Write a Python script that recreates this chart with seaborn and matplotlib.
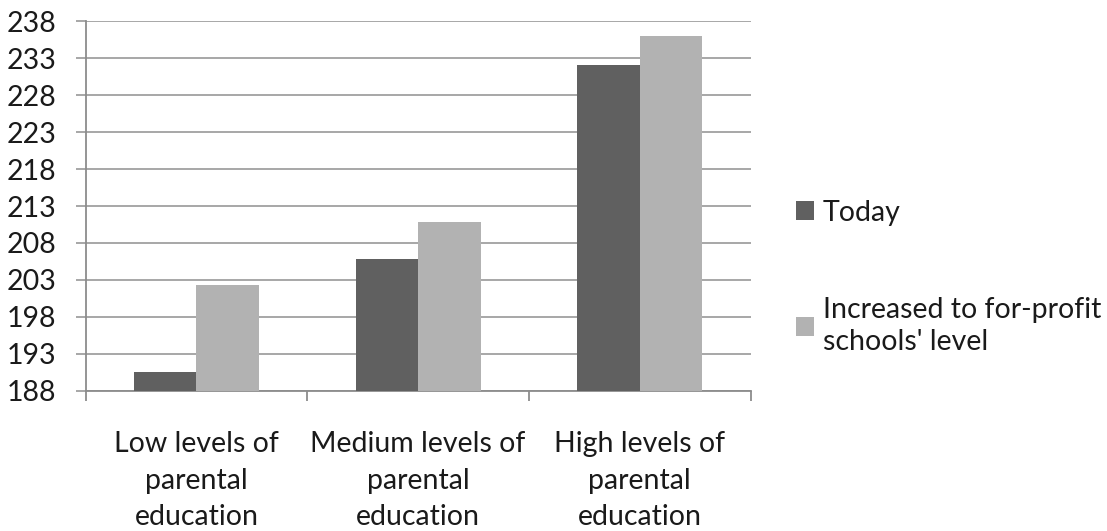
import matplotlib
matplotlib.use("Agg")
import matplotlib.pyplot as plt
import seaborn as sns
import pandas as pd
import numpy as np

categories = ["Low levels of\nparental\neducation",
              "Medium levels of\nparental\neducation",
              "High levels of\nparental\neducation"]
series_names = ["Today", "Increased to for-profit\nschools' level"]
today = [190.6, 205.9, 232.1]
increased = [202.3, 210.8, 236.0]
y_ticks = [188, 193, 198, 203, 208, 213, 218, 223, 228, 233, 238]

df = pd.DataFrame({
    "category": categories * 2,
    "series": [series_names[0]] * 3 + [series_names[1]] * 3,
    "value": today + increased,
})

sns.set_theme(style="white")
plt.rcParams['font.family'] = ['Lato', 'DejaVu Sans']

FS = 20.5
fig = plt.figure(figsize=(11.07, 5.31), dpi=100)
ax = fig.add_axes([0.0774, 0.264, 0.6006, 0.696])

sns.barplot(data=df, x="category", y="value", hue="series",
            palette=["#606060", "#b2b2b2"], width=0.565, gap=0,
            edgecolor="none", linewidth=0, ax=ax, zorder=3)

ax.set_ylim(188, 238)
ax.set_yticks(y_ticks)
ax.set_xlim(-0.5, 2.5)
ax.yaxis.grid(True, color="#a0a0a0", linewidth=1.3, zorder=0)
ax.set_axisbelow(True)
ax.set_xlabel("")
ax.set_ylabel("")

for s in ["top", "right"]:
    ax.spines[s].set_visible(False)
for s in ["left", "bottom"]:
    ax.spines[s].set_color("#8c8c8c")
    ax.spines[s].set_linewidth(1.3)

ax.tick_params(axis="y", which="major", length=7, width=1.3, color="#a0a0a0",
               labelsize=FS, labelcolor="#1a1a1a", pad=14, left=True)
ax.set_xticks([-0.5, 0.5, 1.5, 2.5], minor=True)
ax.tick_params(axis="x", which="minor", length=7, width=1.3, color="#8c8c8c", bottom=True)
ax.tick_params(axis="x", which="major", length=0, labelsize=FS, labelcolor="#1a1a1a", pad=29)
for lbl in ax.get_xticklabels():
    lbl.set_linespacing(1.5)

leg = ax.legend(loc="center left", bbox_to_anchor=(1.068, 0.307), frameon=False,
                fontsize=FS, handlelength=0.63, handleheight=0.63, borderpad=0,
                borderaxespad=0, handletextpad=0.32, labelspacing=2.5,
                labelcolor="#1a1a1a")
for t in leg.get_texts():
    t.set_linespacing(1.3)

fig.savefig("out.png", dpi=100, facecolor="white")
